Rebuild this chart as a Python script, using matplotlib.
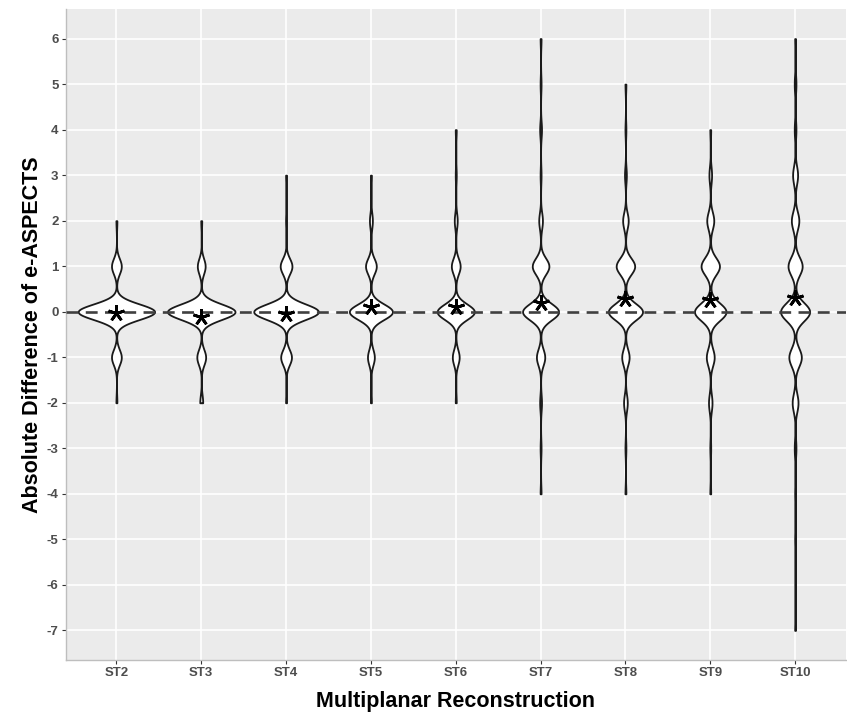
import numpy as np
import matplotlib
matplotlib.use("Agg")
from matplotlib import pyplot as plt

plt.rcParams["font.family"] = ["Liberation Sans", "DejaVu Sans"]
plt.rcParams["axes.unicode_minus"] = False

groups = ["ST2", "ST3", "ST4", "ST5", "ST6", "ST7", "ST8", "ST9", "ST10"]
values = np.arange(-7, 7)
# number of cases at each difference -7..6
counts_st2 = [0, 0, 0, 0, 0, 1, 10, 78, 10, 1, 0, 0, 0, 0]
counts_st3 = [0, 0, 0, 0, 0, 3, 9, 69, 8, 1, 0, 0, 0, 0]
counts_st4 = [0, 0, 0, 0, 0, 1, 11, 66, 12, 1, 1, 0, 0, 0]
counts_st5 = [0, 0, 0, 0, 0, 1, 7, 44, 11, 3, 1, 0, 0, 0]
counts_st6 = [0, 0, 0, 0, 0, 1, 7, 38, 9, 3, 1, 1, 0, 0]
counts_st7 = [0, 0, 0, 1, 1, 2, 9, 39, 18, 4, 1, 2, 1, 1]
counts_st8 = [0, 0, 0, 1, 1, 4, 8, 37, 20, 6, 2, 1, 1, 0]
counts_st9 = [0, 0, 0, 1, 1, 4, 9, 36, 21, 8, 3, 1, 0, 0]
counts_st10 = [1, 0, 1, 1, 2, 7, 15, 35, 17, 9, 6, 2, 2, 1]
means = [-0.03, -0.11, -0.04, 0.10, 0.11, 0.20, 0.28, 0.25, 0.30]

all_counts = [counts_st2, counts_st3, counts_st4, counts_st5, counts_st6,
              counts_st7, counts_st8, counts_st9, counts_st10]
# kernel bandwidth per violin
bws = [0.17, 0.17, 0.17, 0.17, 0.17, 0.18, 0.18, 0.19, 0.2]

dens = []
for c, h in zip(all_counts, bws):
    x = np.repeat(values, c)
    yy = np.linspace(x.min(), x.max(), 600)
    d = np.exp(-0.5 * ((yy[:, None] - x[None, :]) / h) ** 2).sum(1)
    d = d / (h * np.sqrt(2 * np.pi))
    dens.append((yy, d))
dmax = max(d.max() for _, d in dens)

fig = plt.figure(figsize=(8.47, 7.14), dpi=100)
ax = fig.add_axes([65.5 / 847, 1 - 660 / 714, 780.5 / 847, 651 / 714])
ax.set_facecolor("#EBEBEB")
ax.set_xlim(0.4, 9.6)
ax.set_ylim(-7.65, 6.65)
ax.set_yticks(np.arange(-7, 7))
ax.set_xticks(np.arange(1, 10))
ax.set_xticklabels(groups)
ax.grid(True, color="white", lw=1.2)
ax.set_axisbelow(True)

for i, (yy, d) in enumerate(dens):
    w = 0.45 * d / dmax
    ax.fill_betweenx(yy, i + 1 - w, i + 1 + w, facecolor="white",
                     edgecolor="#1a1a1a", lw=1.3, zorder=2)

ax.axhline(0, color="#404040", lw=1.9, ls=(0, (4.5, 2.8)), zorder=3)
ax.plot(np.arange(1, 10), means, ls="none", marker=(5, 2, 0), ms=12,
        mew=2.0, color="black", zorder=4)

for s in ["top", "right"]:
    ax.spines[s].set_visible(False)
for s in ["left", "bottom"]:
    ax.spines[s].set_color("#BEBEBE")
    ax.spines[s].set_linewidth(1.0)
ax.tick_params(length=3, width=0.8, color="#333333", labelcolor="#4D4D4D",
               labelsize=9.5, pad=2)
for lab in ax.get_xticklabels() + ax.get_yticklabels():
    lab.set_fontweight("bold")

ax.set_xlabel("Multiplanar Reconstruction", fontsize=15.5, fontweight="bold",
              labelpad=9)
ax.set_ylabel("Absolute Difference of e-ASPECTS", fontsize=15.5,
              fontweight="bold", labelpad=3)

fig.savefig("out.png", dpi=100)
